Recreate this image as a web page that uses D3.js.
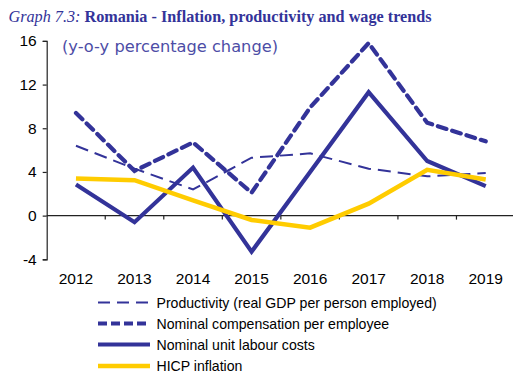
<!DOCTYPE html>
<html>
<head>
<meta charset="utf-8">
<script src="https://cdn.jsdelivr.net/npm/d3@7/dist/d3.min.js"></script>
<style>
  html, body { margin: 0; padding: 0; background: #fff; }
  svg { display: block; }
</style>
</head>
<body>
<script>
// Romania: inflation, productivity and wage trends (y-o-y % change)
const years = ["2012", "2013", "2014", "2015", "2016", "2017", "2018", "2019"];
const productivity = [6.4, 4.3, 2.4, 5.3, 5.7, 4.3, 3.6, 3.9];
const compensation = [9.4, 4.1, 6.7, 2.1, 9.9, 15.8, 8.5, 6.8];
const unitLabourCosts = [2.85, -0.6, 4.4, -3.3, 4.0, 11.3, 5.0, 2.7];
const hicp = [3.4, 3.25, 1.4, -0.4, -1.1, 1.1, 4.2, 3.3];
const yTicks = [-4, 0, 4, 8, 12, 16];
const seriesNames = [
  "Productivity (real GDP per person employed)",
  "Nominal compensation per employee",
  "Nominal unit labour costs",
  "HICP inflation"
];

const W = 514, H = 374;
const navy = "#333399";
const gold = "#FFCC00";

const svg = d3.select("body").append("svg").attr("width", W).attr("height", H);

// Title
const title = svg.append("text")
  .attr("x", 8.5).attr("y", 22)
  .attr("font-family", "'Liberation Serif', 'Times New Roman', serif")
  .attr("font-size", 16.2)
  .attr("fill", navy);
title.append("tspan").attr("font-style", "italic").text("Graph 7.3: ");
title.append("tspan").attr("font-weight", "bold").text("Romania - Inflation, productivity and wage trends");

// Scales
const x = d3.scaleBand().domain(years).range([46.7, 515]);
const y = d3.scaleLinear().domain([-4, 16]).range([259.3, 40.9]);
const cx = d => x(d) + x.bandwidth() / 2;

// Y axis
const yAxis = svg.append("g")
  .attr("transform", "translate(46.7,0)")
  .call(d3.axisLeft(y).tickValues(yTicks).tickSize(4).tickPadding(6).tickFormat(d => String(d)));
yAxis.select(".domain").attr("stroke", "#222").attr("stroke-width", 1.2);
yAxis.selectAll(".tick line").attr("stroke", "#222").attr("stroke-width", 1.2);
yAxis.selectAll(".tick text")
  .attr("font-family", "'Liberation Sans', Arial, sans-serif")
  .attr("font-size", 15.5).attr("fill", "#000");

// X axis along zero, ticks at category boundaries
const xAxisG = svg.append("g").attr("transform", `translate(0,${y(0)})`);
xAxisG.append("line")
  .attr("x1", 46.7).attr("x2", 513).attr("y1", 0).attr("y2", 0)
  .attr("stroke", "#222").attr("stroke-width", 1.2);
xAxisG.selectAll("line.tk").data(years.slice(1)).join("line")
  .attr("class", "tk")
  .attr("x1", d => x(d)).attr("x2", d => x(d))
  .attr("y1", 0).attr("y2", 4)
  .attr("stroke", "#222").attr("stroke-width", 1.2);

// Year labels below the plot
svg.append("g").selectAll("text").data(years).join("text")
  .attr("x", d => cx(d)).attr("y", 284)
  .attr("text-anchor", "middle")
  .attr("font-family", "'Liberation Sans', Arial, sans-serif")
  .attr("font-size", 15.5).attr("fill", "#000")
  .text(d => d);

// Subtitle
svg.append("text")
  .attr("x", 62).attr("y", 52)
  .attr("font-family", "'DejaVu Sans', sans-serif")
  .attr("font-size", 15).attr("fill", "#4d4da6")
  .attr("textLength", 216).attr("lengthAdjust", "spacingAndGlyphs")
  .text("(y-o-y percentage change)");

// Series
const styles = [
  { data: productivity, color: navy, width: 2, dash: "13,7", cap: "butt" },
  { data: compensation, color: navy, width: 4.2, dash: "9,6", cap: "round" },
  { data: unitLabourCosts, color: navy, width: 4.2, dash: null, cap: "butt" },
  { data: hicp, color: gold, width: 4.5, dash: null, cap: "butt" }
];

const line = d3.line().x((d, i) => cx(years[i])).y(d => y(d));

svg.append("g").selectAll("path").data(styles).join("path")
  .attr("d", s => line(s.data))
  .attr("fill", "none")
  .attr("stroke", s => s.color)
  .attr("stroke-width", s => s.width)
  .attr("stroke-dasharray", s => s.dash)
  .attr("stroke-linecap", s => s.cap)
  .attr("stroke-linejoin", "miter");

// Legend
const legendY = [302.5, 323.5, 344.5, 366];
const legendDash = ["12,7", "9,4", null, null];
const lg = svg.append("g").selectAll("g").data(styles).join("g")
  .attr("transform", (s, i) => `translate(0,${legendY[i]})`);
lg.append("line")
  .attr("x1", 98).attr("x2", 150).attr("y1", 0).attr("y2", 0)
  .attr("stroke", s => s.color)
  .attr("stroke-width", s => s.width)
  .attr("stroke-dasharray", (s, i) => legendDash[i]);
lg.append("text")
  .attr("x", 156.5).attr("y", 5)
  .attr("font-family", "'Liberation Sans', Arial, sans-serif")
  .attr("font-size", 14.1).attr("fill", "#000")
  .text((s, i) => seriesNames[i]);
</script>
</body>
</html>
